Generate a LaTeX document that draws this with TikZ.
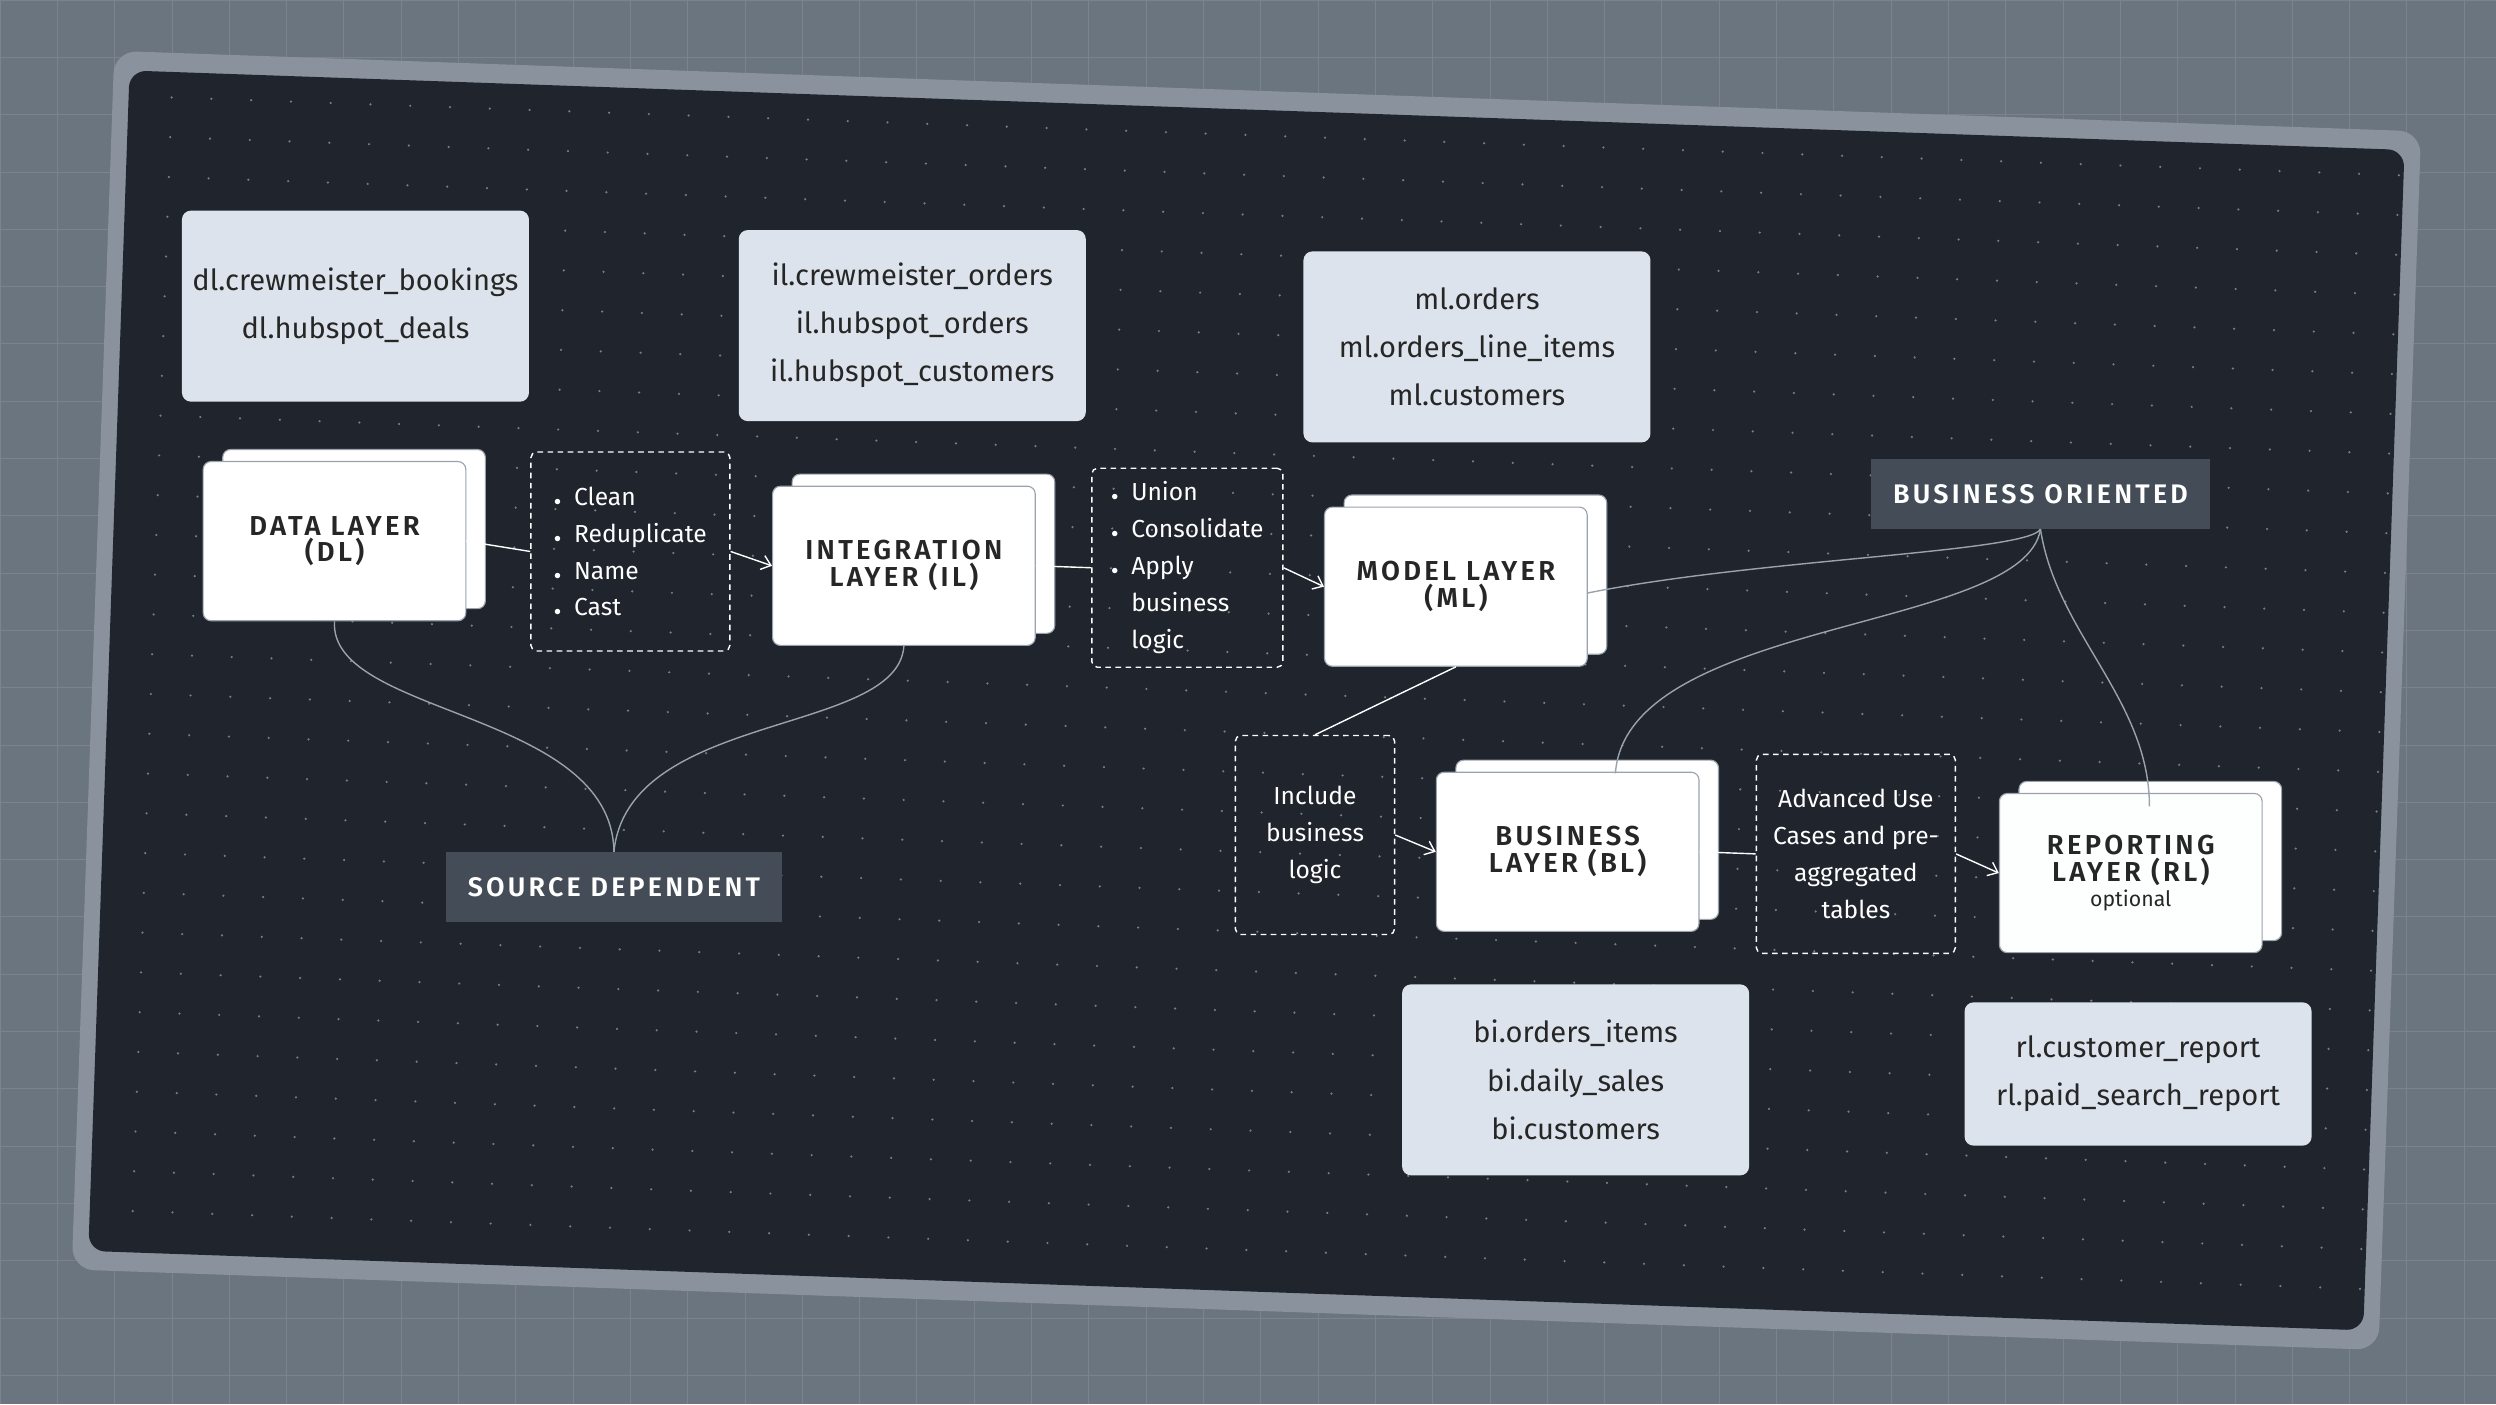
\documentclass[tikz,border=0pt]{standalone}
\usepackage{fontspec}
\setmainfont{Fira Sans}
\newfontfamily\capsfont[LetterSpace=12]{Fira Sans SemiBold}
\usetikzlibrary{positioning,arrows.meta}
\definecolor{bggrey}{HTML}{6B7580}
\definecolor{gridgrey}{HTML}{7A838E}
\definecolor{panel}{HTML}{1F242D}
\definecolor{rim}{HTML}{8A939D}
\definecolor{tablefill}{HTML}{DDE3EC}
\definecolor{tagfill}{HTML}{434C57}
\definecolor{cardline}{HTML}{9AA3AD}
\newdimen\un \un=0.1cm
\tikzset{
  table/.style={draw=none,fill=tablefill,rounded corners=16pt,minimum width=218\un,
    minimum height=120\un,align=center,font=\fontsize{52}{86}\selectfont,text=black!85},
  layer/.style={draw=cardline,line width=2pt,fill=white,rounded corners=14pt,minimum width=165\un,
    minimum height=100\un,align=center,font=\capsfont\fontsize{49}{48}\selectfont,text=black!85},
  todo/.style={draw=white!85,dashed,dash pattern=on 10pt off 8pt,line width=2.5pt,rounded corners=10pt,
    minimum width=125\un,minimum height=125\un,align=left,text=white!90,font=\fontsize{44}{66}\selectfont},
  tag/.style={fill=tagfill,minimum height=44\un,inner xsep=14\un,text=white!92,
    font=\capsfont\fontsize{48}{48}\selectfont},
  link/.style={draw=white!60,line width=2.5pt},
  arr/.style={link,-{Straight Barb[length=16pt,width=26pt]}},
  curve/.style={draw=cardline,line width=2.5pt}
}
\begin{document}
\begin{tikzpicture}[x=0.1cm,y=-0.1cm]
\useasboundingbox (0,0) rectangle (1568,882);
\fill[bggrey] (0,0) rectangle (1568,882);
\foreach \g in {0,36,...,1568} \draw[gridgrey,line width=1.5pt] (\g,0) -- (\g,882);
\foreach \g in {0,36,...,882} \draw[gridgrey,line width=1.5pt] (0,\g) -- (1568,\g);
\begin{scope}[rotate around={-2:(783,440)}]
% panel
\fill[rim,rounded corners=40pt] (58,57) rectangle (1508,823);
\fill[panel,rounded corners=30pt] (68,69) rectangle (1498,811);
\foreach \i in {0,...,56} \foreach \j in {0,...,28}
  \fill[white!40!panel] (95+25*\i,85+25*\j) circle (2.2pt);
% tables
\node[table] (dlt) at (215,212) {dl.crewmeister\_bookings\\dl.hubspot\_deals};
\node[table] (ilt) at (565,212) {il.crewmeister\_orders\\il.hubspot\_orders\\il.hubspot\_customers};
\node[table] (mlt) at (920,213) {ml.orders\\ml.orders\_line\_items\\ml.customers};
\node[table] (bit) at (998,671) {bi.orders\_items\\bi.daily\_sales\\bi.customers};
\node[table,minimum height=90\un] (rlt) at (1351,655) {rl.customer\_report\\rl.paid\_search\_report};
% layers
\foreach \n/\x/\y/\t in {dl/207/360/{DATA LAYER\\(DL)},il/565/363/{INTEGRATION\\LAYER (IL)},
    ml/912/364/{MODEL LAYER\\(ML)},bl/988/528/{BUSINESS\\LAYER (BL)}}{
  \node[layer] at (\x+12,\y-8) {};
  \node[layer] (\n) at (\x,\y) {\t};
}
\node[layer,fill=white] at (1354,521) {};
\node[layer,fill=white!95!tablefill] (rl) at (1342,529) {REPORTING\\LAYER (RL)\\[-4pt]{\normalfont\fontsize{38}{38}\selectfont optional}};
% transformation boxes
\node[todo] (clean) at (393,360) {$\bullet$\ \ Clean\\$\bullet$\ \ Reduplicate\\$\bullet$\ \ Name\\$\bullet$\ \ Cast};
\node[todo,minimum width=120\un] (union) at (743,358) {$\bullet$\ \ Union\\$\bullet$\ \ Consolidate\\$\bullet$\ \ Apply\\\phantom{$\bullet$\ \ }business\\\phantom{$\bullet$\ \ }logic};
\node[todo,minimum width=100\un,align=center] (incl) at (829,523) {Include\\business\\logic};
\node[todo,align=center] (adv) at (1169,523) {Advanced Use\\Cases and pre-\\aggregated\\tables};
% tags
\node[tag] (src) at (390,571) {SOURCE DEPENDENT};
\node[tag] (biz) at (1277,293) {BUSINESS ORIENTED};
% connectors
\draw[link] (dl.east) -- (clean.west);
\draw[arr] (clean.east) -- (il.west);
\draw[link] (il.east) -- (union.west);
\draw[arr] (union.east) -- (ml.west);
\draw[link] (ml.south) -- (incl.north);
\draw[arr] (incl.east) -- (bl.west);
\draw[link] (bl.east) -- (adv.west);
\draw[arr] (adv.east) -- (rl.west);
\draw[curve] (dl.south) .. controls (207,470) and (385,460) .. (src.north);
\draw[curve] (il.south) .. controls (565,470) and (395,460) .. (src.north);
\draw[curve] (biz.south) .. controls (1270,330) and (1100,340) .. ([yshift=-4\un]ml.east);
\draw[curve] (biz.south) .. controls (1270,380) and (1020,380) .. ([xshift=30\un]bl.north);
\draw[curve] (biz.south) .. controls (1290,380) and (1350,420) .. ([xshift=12\un,yshift=-8\un]rl.north);
\end{scope}
\end{tikzpicture}
\end{document}
